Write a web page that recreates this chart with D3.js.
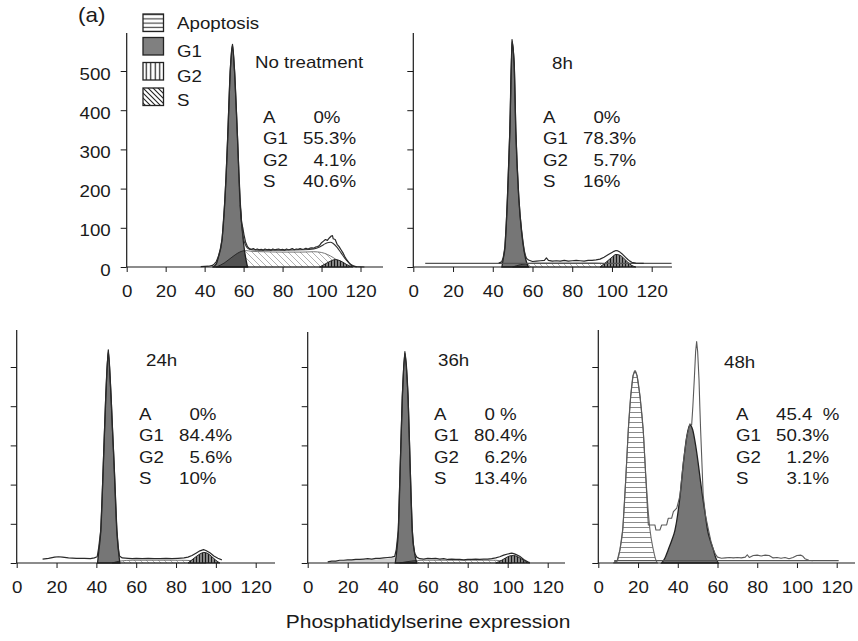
<!DOCTYPE html>
<html><head><meta charset="utf-8">
<script src="https://cdn.jsdelivr.net/npm/d3@7"></script>
<style>
body{margin:0;background:#fff}
svg{display:block}
text{font-family:"Liberation Sans",Arial,Helvetica,sans-serif;fill:#1a1a1a;font-size:16px;white-space:pre}
</style>
</head><body>
<svg id="c" width="858" height="641"></svg>
<script>
// ---------------- DATA ----------------
const panelNames = ["No treatment", "8h", "24h", "36h", "48h"];
const statLabels = ["A", "G1", "G2", "S"];
const statValues = [
  ["  0%", "55.3%", "  4.1%", "40.6%"],
  ["  0%", "78.3%", "  5.7%", "16%"],
  ["  0%", "84.4%", "  5.6%", "10%"],
  ["  0 %", "80.4%", "  6.2%", "13.4%"],
  ["45.4  %", "50.3%", "  1.2%", "  3.1%"]
];
const xTicks = [0, 20, 40, 60, 80, 100, 120];
const yTicks = [0, 100, 200, 300, 400, 500];
const legendItems = ["Apoptosis", "G1", "G2", "S"];
const axisTitle = "Phosphatidylserine expression";
const panelLetter = "(a)";

// histogram measured outlines: [channel, count]
const rawLine = [
  [[38,1],[42,2],[44,4],[45,8],[46,14],[47,26],[48,45],[49,72],[50.2,158],[51,230],[51.8,328],[52.5,420],[53.1,498],[53.8,550],[54.3,568],[54.8,540],[55.4,498],[56.2,410],[56.9,330],[57.6,240],[58.3,165],[59,112],[59.6,100],[60.2,82],[61,64],[62,52],[63,47],[64,45],[65,47],[66,44],[67,46],[68,44],[69,45],[70,43],[71,46],[72,44],[73,45],[74,43],[75,46],[76,44],[77,45],[78,46],[79,44],[80,45],[81,43],[82,46],[83,44],[84,45],[85,47],[86,44],[87,46],[88,45],[89,47],[90,45],[91,46],[92,48],[93,46],[94,48],[95,49],[96,48],[97,51],[98,52],[99,55],[100,62],[101,66],[102,70],[103,68],[104,74],[105,79],[105.6,80],[106,72],[107,70],[108,58],[109,52],[110,44],[111,36],[112,26],[113,18],[114,11],[115,5],[116,2],[118,1],[122,0]],
  [[43,10],[44.5,13],[45.3,25],[46.1,51],[46.8,110],[47.4,179],[48,260],[48.6,350],[49.1,460],[49.7,580],[50.2,560],[50.8,520],[51.2,440],[51.6,350],[52.3,260],[53.1,179],[53.8,130],[54.5,94],[55.2,65],[55.8,43],[56.4,30],[57,22],[58,18],[59,16],[60,14],[62,15],[64,16],[66,17],[67,23],[68,17],[70,15],[72,16],[74,15],[76,17],[78,15],[80,16],[82,17],[84,16],[86,15],[88,17],[90,17],[92,18],[94,20],[96,25],[98,31],[100,37],[101,40],[102,42],[103,41],[104,38],[105,34],[106,29],[107,24],[108,19],[109,15],[110,12],[112,10],[116,9]],
  [[13,10],[16,12],[19,15],[21,16],[23,15],[26,13],[30,12],[34,12],[37,11],[39,13],[40.4,16],[41.2,40],[42.2,84],[42.9,170],[43.5,255],[44.1,340],[44.7,425],[45.4,500],[46,544],[46.6,500],[47.4,425],[48.1,340],[48.9,255],[49.6,170],[50.3,84],[51,40],[51.6,18],[53,13],[56,12],[58,11],[60,12],[63,11],[66,12],[69,11],[72,11],[75,12],[78,11],[81,12],[84,13],[86,15],[88,19],[90,25],[92,31],[93.8,34],[95,32],[97,26],[99,18],[101,12],[103,8]],
  [[10,3],[12,5],[14,5],[16,7],[18,7],[20,8],[22,8],[24,9],[26,9],[28,10],[30,11],[32,10],[34,12],[36,12],[38,13],[40,14],[42,15],[43.5,17],[44.3,35],[45.3,84],[45.8,170],[46.3,254],[46.8,340],[47.3,425],[48,500],[48.6,539],[49.3,500],[50.2,425],[50.7,340],[51.2,254],[51.7,170],[52.3,84],[52.9,45],[53.5,25],[54.5,15],[56,11],[58,10],[60,12],[62,11],[64,12],[66,10],[68,11],[70,9],[72,10],[74,9],[76,9],[78,8],[80,9],[82,9],[84,10],[86,9],[88,10],[90,10],[92,11],[94,13],[96,16],[98,20],[100,23],[102,25],[103,24],[104,22],[106,17],[108,9],[110,3],[111,1]],
  [[8,3],[9.5,6],[10.9,34],[12.3,85],[13.8,212],[15.1,340],[16.3,425],[17.5,478],[18.5,490],[19.5,478],[21,425],[22.6,340],[24,212],[24.8,130],[25.2,97],[28.5,97],[29,84],[31,84],[31.9,97],[34.4,97],[35.2,114],[36.9,114],[37.8,131],[39.5,140],[41.1,172],[42.8,257],[44.5,322],[46.1,355],[47,352],[47.6,400],[48.3,467],[49,540],[49.5,565],[50,540],[50.7,467],[51.1,400],[51.5,340],[52.2,250],[52.8,172],[54,120],[55.4,86],[56.7,55],[57.9,35],[59,22],[60,15],[62,12],[64,13],[66,14],[68,13],[70,14],[72,13],[74,15],[75,21],[76,14],[78,19],[80,20],[82,18],[84,20],[86,19],[88,13],[90,14],[92,12],[94,14],[96,11],[98,14],[100,19],[102,20],[103,17],[104,11],[106,7],[108,6]]
];
const fitLine = [
  [[58.3,158],[59.2,100],[60,72],[61,56],[62,48],[64,44],[70,43],[80,43],[90,44],[96,46],[99,51],[101,57],[103,62],[104.5,63],[106,60],[108,50],[110,36],[112,22],[114,11],[116,4],[118,0]],
  [], [], [], []
];
const baseLine = [
  [], [[6,9],[130,9]], [], [], [[8,6],[121,6]]
];
const debrisArea = [
  [], [], [],
  [[10,0],[12,4],[16,6],[20,7],[26,8],[32,9],[38,11],[42,13],[44,14],[45,0]],
  []
];
const g1Area = [
  [[44,0],[46,8],[47.1,26],[48.9,69],[50.2,153],[51.8,324],[53.1,495],[54.3,566],[55.4,495],[56.9,324],[58.3,153],[59.2,100],[60,60],[61,25],[62,0]],
  [[44.6,0],[45.3,22],[46.1,48],[47.4,176],[48.6,346],[49.7,575],[50.8,515],[51.6,346],[53.1,176],[54.5,90],[55.8,40],[57,12],[58,0]],
  [[40.6,0],[41.2,30],[42.2,80],[43.5,250],[44.7,420],[46,540],[47.4,420],[48.9,250],[50.3,80],[51,35],[51.8,0]],
  [[43.8,0],[44.5,30],[45.3,80],[46.3,250],[47.3,420],[48.6,535],[50.2,420],[51.2,250],[52.3,80],[53.3,30],[54.5,0]],
  [[31.9,0],[33.5,12],[35.2,34],[37,58],[38.6,84],[40,125],[41.1,169],[42.8,254],[44.5,322],[46.1,352],[47.5,340],[49,300],[50.3,254],[51.4,210],[52.5,169],[53.8,125],[55,84],[56.5,55],[57.9,34],[59,15],[60.4,0]]
];
const sArea = [
  [[46,0],[50,10],[54,25],[58,38],[61,42],[64,40],[70,39],[80,38],[90,38],[96,39],[100,37],[103,32],[106,24],[109,14],[112,5],[114,0]],
  [[50,0],[54,6],[58,9],[62,10],[80,10],[92,10],[97,8],[101,4],[104,0]],
  [[48,0],[52,5],[58,7],[70,7],[82,7],[88,6],[92,3],[95,0]],
  [[46,0],[52,5],[58,7],[70,7],[85,7],[94,7],[98,4],[102,0]],
  []
];
const g2Area = [
  [[99,0],[102,8],[105,16],[107,19],[109,17],[111,12],[113,6],[116,0]],
  [[94,0],[97,12],[100,25],[102,32],[104,30],[106,22],[108,12],[110,4],[112,0]],
  [[86,0],[88,8],[90,16],[92,23],[94,27],[96,24],[98,16],[100,7],[102,0]],
  [[94,0],[97,7],[99,13],[101,18],[103,19],[105,16],[107,10],[109,4],[111,0]],
  []
];
const apoArea = [
  [], [], [], [],
  [[7.5,0],[9.5,5],[10.9,34],[12.3,85],[13.8,212],[15.1,340],[16.3,425],[17.5,478],[18.5,490],[19.5,478],[21,425],[22.6,340],[24,212],[25,140],[26,85],[27.7,34],[28.7,12],[29.7,0]]
];

// ---------------- LAYOUT ----------------
const SX = 1.17; // horizontal stretch of the scanned lettering
const layout = [
  {x0:126.7, x120:360.5, xEnd:383, base:267, top:33,  yLabels:true,  title:[255,68],  stat:[263,122.5]},
  {x0:413.3, x120:651.7, xEnd:672, base:267, top:33,  yLabels:false, title:[552,68.5],stat:[543,122.5]},
  {x0:16.7,  x120:255.7, xEnd:275, base:563, top:330, yLabels:false, title:[146,365.5],stat:[139,419.5]},
  {x0:307.7, x120:547.7, xEnd:565, base:563, top:332, yLabels:false, title:[438,365.5],stat:[434,419.5]},
  {x0:598.3, x120:836.7, xEnd:855, base:563, top:330, yLabels:false, title:[724,367.5],stat:[736,419.5]}
];

const svg = d3.select("#c");
const defs = svg.append("defs");

function hatch(id, w, h, d, stroke, sw, bg) {
  const p = defs.append("pattern").attr("id", id).attr("patternUnits", "userSpaceOnUse")
    .attr("width", w).attr("height", h);
  p.append("rect").attr("width", w).attr("height", h).attr("fill", bg || "#fff");
  p.append("path").attr("d", d).attr("stroke", stroke).attr("stroke-width", sw).attr("fill", "none");
}
hatch("hS", 6, 6, "M0,0L6,6M-1,5L1,7M5,-1L7,1", "#a8a8a8", 0.9);
hatch("hSL", 5, 5, "M0,0L5,5M-1,4L1,6M4,-1L6,1", "#222", 1.1);
hatch("hG2", 3, 3, "M1.5,0V3", "#1a1a1a", 1.1, "#8a8a8a");
hatch("hG2L", 4.5, 4, "M2.25,0V4", "#222", 1.2);
hatch("hA", 5, 5, "M0,2.5H5", "#8a8a8a", 1);
hatch("hAL", 4, 4.2, "M0,2.1H4", "#333", 1.1);

function T(sel, x, y, str, size, anchor, sx) {
  return sel.append("text")
    .attr("transform", `translate(${x},${y}) scale(${sx || SX},1)`)
    .attr("text-anchor", anchor || "start")
    .style("font-size", (size || 16) + "px")
    .text(str);
}

layout.forEach((L, i) => {
  const g = svg.append("g");
  const x = d3.scaleLinear().domain([0, 120]).range([L.x0, L.x120]);
  const y = d3.scaleLinear().domain([0, 500]).range([L.base, L.base - 196]);
  const area = d3.area().x(d => x(d[0])).y0(y(0)).y1(d => y(d[1])).curve(d3.curveMonotoneX);
  const line = d3.line().x(d => x(d[0])).y(d => y(d[1]));
  const sline = d3.line().x(d => x(d[0])).y(d => y(d[1])).curve(d3.curveMonotoneX);

  // components
  if (debrisArea[i].length) g.append("path").attr("d", area(debrisArea[i])).attr("fill", "#cfcfcf").attr("stroke", "none");
  if (sArea[i].length) g.append("path").attr("d", area(sArea[i])).attr("fill", "url(#hS)").attr("stroke", "#555").attr("stroke-width", 0.8);
  if (g2Area[i].length) g.append("path").attr("d", area(g2Area[i])).attr("fill", "url(#hG2)").attr("stroke", "#222").attr("stroke-width", 1);
  if (apoArea[i].length) g.append("path").attr("d", area(apoArea[i])).attr("fill", "url(#hA)").attr("stroke", "#6a6a6a").attr("stroke-width", 1.1);
  if (g1Area[i].length) {
    g.append("path").attr("d", area(g1Area[i])).attr("fill", "#767676").attr("stroke", "#222").attr("stroke-width", 1.3);
    if (sArea[i].length) {
      const cid = "clipG1_" + i;
      defs.append("clipPath").attr("id", cid).append("path").attr("d", area(g1Area[i]));
      g.append("path").attr("d", area(sArea[i])).attr("clip-path", `url(#${cid})`)
        .attr("fill", "rgba(0,0,0,0.3)").attr("stroke", "#222").attr("stroke-width", 0.9);
    }
  }
  if (baseLine[i].length) g.append("path").attr("d", line(baseLine[i])).attr("fill", "none").attr("stroke", "#555").attr("stroke-width", 1.2);
  if (fitLine[i].length) g.append("path").attr("d", sline(fitLine[i])).attr("fill", "none").attr("stroke", "#333").attr("stroke-width", 1.1);
  g.append("path").attr("d", line(rawLine[i])).attr("fill", "none")
    .attr("stroke", i === 4 ? "#5a5a5a" : "#2a2a2a").attr("stroke-width", i === 4 ? 1.1 : 1.2)
    .attr("stroke-linejoin", "round");

  // axes
  const ax = g.append("g").attr("transform", `translate(0,${L.base})`).attr("color", "#1a1a1a")
    .call(d3.axisBottom(x).tickValues(xTicks).tickSize(5).tickSizeOuter(0));
  ax.select(".domain").remove();
  ax.attr("font-size", null).attr("font-family", null);
  ax.selectAll(".tick text").attr("y", 0).attr("dy", null)
    .attr("transform", `translate(0,30) scale(${SX},1)`).style("font-size", "16px");
  g.append("line").attr("x1", L.x0).attr("x2", L.xEnd).attr("y1", L.base).attr("y2", L.base)
    .attr("stroke", "#1a1a1a").attr("stroke-width", 1.2);

  const ay = g.append("g").attr("transform", `translate(${L.x0},0)`).attr("color", "#1a1a1a")
    .call(d3.axisLeft(y).tickValues(yTicks).tickSize(6).tickSizeOuter(0)
      .tickFormat(L.yLabels ? d3.format("d") : () => ""));
  ay.select(".domain").remove();
  ay.attr("font-size", null).attr("font-family", null);
  ay.selectAll(".tick text").attr("x", 0).attr("dy", null).attr("text-anchor", "end")
    .attr("transform", `translate(-16,8) scale(${SX},1)`).style("font-size", "16px");
  g.append("line").attr("x1", L.x0).attr("x2", L.x0).attr("y1", L.base).attr("y2", L.top)
    .attr("stroke", "#1a1a1a").attr("stroke-width", 1.2);

  // texts
  T(g, L.title[0], L.title[1], panelNames[i]);
  statLabels.forEach((s, k) => {
    const yy = L.stat[1] + k * 21.5;
    T(g, L.stat[0], yy, s);
    T(g, L.stat[0] + 40, yy, statValues[i][k]);
  });
});

// legend
const lg = svg.append("g");
const legFill = ["url(#hAL)", "#808080", "url(#hG2L)", "url(#hSL)"];
const boxTop = [14, 37.5, 62.5, 88];
const textBase = [29, 57, 81.5, 106];
legendItems.forEach((s, k) => {
  lg.append("rect").attr("x", 143).attr("y", boxTop[k]).attr("width", 20.5).attr("height", 17.5)
    .attr("fill", legFill[k]).attr("stroke", "#222").attr("stroke-width", 1.3);
  T(lg, 177, textBase[k], s);
});

T(svg, 78, 22, panelLetter, 20, "start", 1.12);
T(svg, 428, 628, axisTitle, 17.5, "middle", 1.2);
</script>
</body></html>
